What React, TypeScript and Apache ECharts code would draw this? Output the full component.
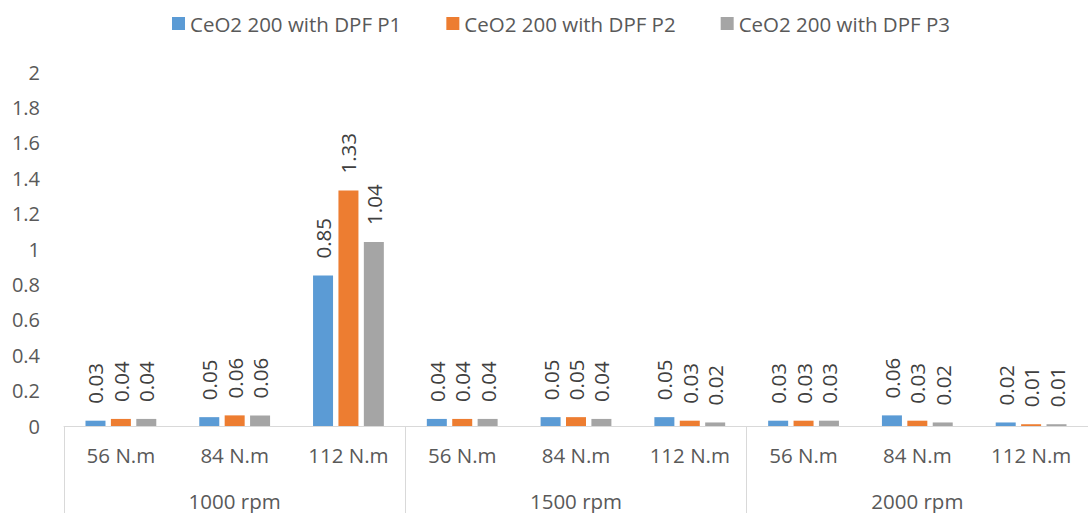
import React, { useEffect, useRef } from "react";
import * as echarts from "echarts";

const categories = ["56 N.m", "84 N.m", "112 N.m", "56 N.m", "84 N.m", "112 N.m", "56 N.m", "84 N.m", "112 N.m"];
const groups = ["1000 rpm", "1500 rpm", "2000 rpm"];
const seriesNames = ["CeO2 200 with DPF P1", "CeO2 200 with DPF P2", "CeO2 200 with DPF P3"];
const p1 = [0.03, 0.05, 0.85, 0.04, 0.05, 0.05, 0.03, 0.06, 0.02];
const p2 = [0.04, 0.06, 1.33, 0.04, 0.05, 0.03, 0.03, 0.03, 0.01];
const p3 = [0.04, 0.06, 1.04, 0.04, 0.04, 0.02, 0.03, 0.02, 0.01];
const colors = ["#5B9BD5", "#ED7D31", "#A5A5A5"];

const FONT = "'Open Sans', sans-serif";
const TXT = "#595959";

export default function App() {
  const ref = useRef<HTMLDivElement>(null);
  useEffect(() => {
    document.body.style.margin = "0";
    document.body.style.overflow = "hidden";
    const chart = echarts.init(ref.current!, null, { renderer: "svg" });
    const values = [p1, p2, p3];
    chart.setOption({
      animation: false,
      textStyle: { fontFamily: FONT },
      legend: {
        top: 8,
        left: 167,
        itemWidth: 13,
        itemHeight: 13,
        itemGap: 45,
        icon: "rect",
        textStyle: { fontSize: 20.5, color: TXT, fontFamily: FONT },
        data: seriesNames,
      },
      grid: { left: 64, right: -8, top: 72, bottom: 87, containLabel: false },
      xAxis: [
        {
          type: "category",
          data: categories,
          position: "bottom",
          axisLine: { show: true, lineStyle: { color: "#D9D9D9", width: 1 } },
          axisTick: { show: false },
          axisLabel: { margin: 18, fontSize: 20.5, color: TXT, fontFamily: FONT, interval: 0 },
        },
        {
          type: "category",
          data: groups,
          position: "bottom",
          axisLine: { show: false },
          axisTick: { show: true, length: 100, lineStyle: { color: "#D9D9D9", width: 1 } },
          axisLabel: { margin: 64, fontSize: 20.5, color: TXT, fontFamily: FONT, interval: 0 },
        },
      ],
      yAxis: {
        type: "value",
        min: 0,
        max: 2,
        interval: 0.2,
        axisLine: { show: false },
        axisTick: { show: false },
        splitLine: { show: false },
        axisLabel: {
          fontSize: 20,
          color: TXT,
          fontFamily: FONT,
          margin: 24,
          formatter: (v: number) => String(Math.round(v * 10) / 10),
        },
      },
      series: seriesNames.map((name, i) => ({
        name,
        type: "bar",
        xAxisIndex: 0,
        data: values[i],
        barWidth: 20,
        barGap: "27%",
        itemStyle: { color: colors[i] },
        label: {
          show: true,
          position: "top",
          rotate: 90,
          align: "left",
          verticalAlign: "middle",
          distance: 17,
          fontSize: 20.5,
          color: "#404040",
          fontFamily: FONT,
          formatter: (p: any) => p.value.toFixed(2),
        },
      })),
    });
    return () => chart.dispose();
  }, []);
  return <div ref={ref} style={{ width: 1088, height: 513 }} />;
}
